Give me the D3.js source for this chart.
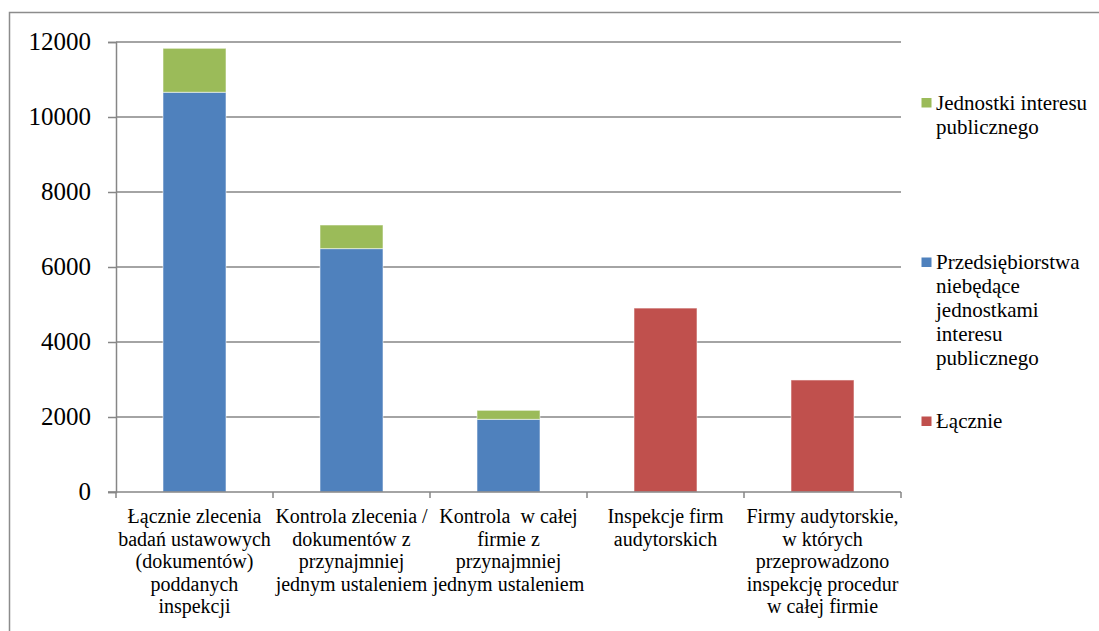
<!DOCTYPE html>
<html>
<head>
<script src="https://cdn.jsdelivr.net/npm/d3@7"></script>
</head>
<body style="margin:0">
<svg id="chart" width="1099" height="631"></svg>
<script>
// Category labels (multi-line, as wrapped under the axis)
const categories = [
  ["Łącznie zlecenia", "badań ustawowych", "(dokumentów)", "poddanych", "inspekcji"],
  ["Kontrola zlecenia /", "dokumentów z", "przynajmniej", "jednym ustaleniem"],
  ["Kontrola  w całej", "firmie z", "przynajmniej", "jednym ustaleniem"],
  ["Inspekcje firm", "audytorskich"],
  ["Firmy audytorskie,", "w których", "przeprowadzono", "inspekcję procedur", "w całej firmie"]
];

// Series values per category
const nonPie   = [10660, 6490, 1938, 0, 0];    // Przedsiębiorstwa niebędące JIP
const pie      = [1172, 630, 240, 0, 0];       // Jednostki interesu publicznego
const total    = [0, 0, 0, 4905, 2987];        // Łącznie

const yTicks = [0, 2000, 4000, 6000, 8000, 10000, 12000];

const seriesNames = {
  pie: ["Jednostki interesu", "publicznego"],
  nonPie: ["Przedsiębiorstwa", "niebędące", "jednostkami", "interesu", "publicznego"],
  total: ["Łącznie"]
};
const colors = { nonPie: "#4F81BD", pie: "#9BBB59", total: "#C0504D" };

const FONT = "'Liberation Serif'";

const svg = d3.select("#chart").style("display", "block");

// outer frame
svg.append("rect")
  .attr("x", 9.5).attr("y", 12.5)
  .attr("width", 1200).attr("height", 700)
  .attr("fill", "none").attr("stroke", "#8c8c8c").attr("stroke-width", 1.5);

const plot = { left: 116, right: 901, top: 42, bottom: 492 };

const x = d3.scaleBand()
  .domain(d3.range(categories.length))
  .range([plot.left, plot.right])
  .paddingInner(0).paddingOuter(0);

const y = d3.scaleLinear().domain([0, 12000]).range([plot.bottom, plot.top]);

// gridlines
svg.append("g")
  .selectAll("line")
  .data(yTicks.filter(d => d > 0))
  .join("line")
  .attr("x1", plot.left).attr("x2", plot.right)
  .attr("y1", d => y(d)).attr("y2", d => y(d))
  .attr("stroke", "#868686").attr("stroke-width", 1.5);

// stacked bars
const rows = categories.map((c, i) => ({ i, nonPie: nonPie[i], pie: pie[i], total: total[i] }));
const stacked = d3.stack().keys(["nonPie", "pie", "total"])(rows);

const barW = 63;
svg.append("g")
  .selectAll("g")
  .data(stacked)
  .join("g")
  .attr("fill", d => colors[d.key])
  .selectAll("rect")
  .data(d => d.filter(s => s[1] - s[0] > 0))
  .join("rect")
  .attr("x", d => x(d.data.i) + (x.bandwidth() - barW) / 2)
  .attr("width", barW)
  .attr("y", d => y(d[1]))
  .attr("height", d => y(d[0]) - y(d[1]))
  .attr("stroke", "rgba(255,255,255,0.55)")
  .attr("stroke-width", 1);

// y axis: line and ticks from d3.axisLeft, labels drawn as plain text
const yAxis = d3.axisLeft(y).tickValues(yTicks).tickSize(8).tickFormat("");
const ya = svg.append("g").attr("transform", `translate(${plot.left},0)`).call(yAxis);
ya.select(".domain").attr("stroke", "#868686").attr("stroke-width", 1.5);
ya.selectAll(".tick line").attr("stroke", "#868686").attr("stroke-width", 1.5);
ya.selectAll(".tick text").remove();

svg.selectAll("text.ylab")
  .data(yTicks)
  .join("text")
  .attr("class", "ylab")
  .attr("x", plot.left - 25)
  .attr("y", d => y(d) + 8)
  .attr("text-anchor", "end")
  .attr("font-size", 25)
  .style("font-family", FONT)
  .text(d => d3.format("d")(d));

// x axis line and boundary ticks
svg.append("line")
  .attr("x1", plot.left - 8).attr("x2", plot.right)
  .attr("y1", plot.bottom).attr("y2", plot.bottom)
  .attr("stroke", "#868686").attr("stroke-width", 1.5);
const bounds = d3.range(categories.length + 1).map(i => plot.left + i * x.step());
svg.append("g").selectAll("line")
  .data(bounds).join("line")
  .attr("x1", d => d).attr("x2", d => d)
  .attr("y1", plot.bottom).attr("y2", plot.bottom + 6)
  .attr("stroke", "#868686").attr("stroke-width", 1.5);

// category labels, one text per line
const catLines = categories.flatMap((lines, i) =>
  lines.map((t, k) => ({ t, i, k })));
svg.selectAll("text.cat")
  .data(catLines)
  .join("text")
  .attr("class", "cat")
  .attr("x", d => x(d.i) + x.bandwidth() / 2)
  .attr("y", d => 523 + d.k * 22.6)
  .attr("text-anchor", "middle")
  .attr("font-size", 20)
  .style("font-family", FONT)
  .style("white-space", "pre")
  .text(d => d.t);

// legend
const legendItems = [
  { key: "pie", y: 109.5 },
  { key: "nonPie", y: 269 },
  { key: "total", y: 428 }
];
svg.selectAll("rect.key")
  .data(legendItems)
  .join("rect")
  .attr("class", "key")
  .attr("x", 921.5).attr("y", d => d.y - 11.5)
  .attr("width", 10).attr("height", 9.5)
  .attr("fill", d => colors[d.key]);

const legLines = legendItems.flatMap(d =>
  seriesNames[d.key].map((t, k) => ({ t, y: d.y + k * 24 })));
svg.selectAll("text.leg")
  .data(legLines)
  .join("text")
  .attr("class", "leg")
  .attr("x", 936)
  .attr("y", d => d.y)
  .attr("font-size", 21)
  .style("font-family", FONT)
  .text(d => d.t);
</script>
</body>
</html>
